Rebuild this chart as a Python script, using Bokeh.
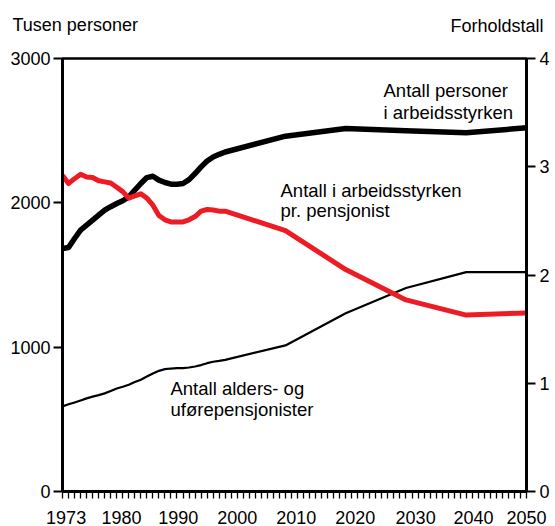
from bokeh.plotting import figure
from bokeh.models import (Range1d, LinearAxis, FixedTicker, Label)
from bokeh.embed import file_html
from bokeh.resources import INLINE

# ---------------- data ----------------
years = list(range(1973, 2001)) + [2010, 2020, 2030, 2040, 2050]

# Antall personer i arbeidsstyrken (tusen)
workforce = [1684, 1690, 1753, 1811, 1845, 1880, 1915, 1949, 1973, 1995,
             2014, 2041, 2088, 2134, 2175, 2184, 2157, 2141, 2129, 2129,
             2134, 2161, 2203, 2249, 2290, 2318, 2336, 2352,
             2462, 2515, 2500, 2485, 2520]

# Antall alders- og uførepensjonister (tusen)
pensioners = [590, 604, 617, 631, 645, 657, 668, 680, 696, 714,
              726, 740, 758, 774, 797, 818, 836, 848, 852, 855,
              855, 859, 866, 876, 889, 899, 905, 912,
              1012, 1235, 1410, 1520, 1520]

# Antall i arbeidsstyrken pr. pensjonist (forholdstall)
ratio = [2.92, 2.845, 2.89, 2.93, 2.906, 2.90, 2.87, 2.86, 2.85, 2.81,
         2.77, 2.71, 2.73, 2.75, 2.71, 2.645, 2.55, 2.51, 2.49, 2.49,
         2.49, 2.51, 2.54, 2.59, 2.605, 2.60, 2.59, 2.59,
         2.41, 2.05, 1.77, 1.63, 1.65]

x_tick_labels = ["1973", "1980", "1990", "2000", "2010", "2020", "2030", "2040", "2050"]
x_tick_label_pos = [1973.6, 1982.8, 1992.2, 2002.0, 2011.8, 2021.6, 2031.6, 2041.2, 2050.0]
minor_years = list(range(1973, 2051))
left_ticks = [0, 1000, 2000, 3000]
right_ticks = [0, 1, 2, 3, 4]

FONT = "Liberation Sans"
FS = "18px"
FS_ANN = "18.5px"
RED = "#ed1c24"

p = figure(width=555, height=526, output_backend="svg", toolbar_location=None,
           x_range=Range1d(1973, 2050), y_range=Range1d(0, 3000),
           min_border_left=62, min_border_right=29, min_border_top=58,
           min_border_bottom=34)
p.extra_y_ranges = {"ratio": Range1d(0, 4)}
p.grid.visible = False
p.background_fill_color = "white"
p.border_fill_color = "white"
p.outline_line_color = "black"
p.outline_line_width = 2.5

# x axis
xa = p.xaxis[0]
xa.ticker = FixedTicker(ticks=x_tick_label_pos, minor_ticks=minor_years)
xa.major_label_overrides = {pos: lab for pos, lab in zip(x_tick_label_pos, x_tick_labels)}
xa.major_tick_out = 0
xa.major_tick_in = 0
xa.minor_tick_out = 7
xa.minor_tick_in = 0
xa.minor_tick_line_color = "black"
xa.minor_tick_line_width = 1.3
xa.axis_line_width = 3
xa.axis_line_color = "black"
xa.major_label_text_font = FONT
xa.major_label_text_font_size = FS
xa.major_label_text_color = "black"
xa.major_label_standoff = 12

# left axis
ya = p.yaxis[0]
ya.ticker = FixedTicker(ticks=left_ticks)
ya.major_tick_out = 9
ya.major_tick_in = 0
ya.minor_tick_out = 0
ya.minor_tick_in = 0
ya.major_tick_line_width = 2
ya.axis_line_width = 3
ya.major_label_text_font = FONT
ya.major_label_text_font_size = FS
ya.major_label_text_color = "black"
ya.major_label_standoff = 3

# right axis
ra = LinearAxis(y_range_name="ratio", ticker=FixedTicker(ticks=right_ticks))
ra.major_tick_out = 9
ra.major_tick_in = 0
ra.minor_tick_out = 0
ra.minor_tick_in = 0
ra.major_tick_line_width = 2
ra.axis_line_width = 3
ra.major_label_text_font = FONT
ra.major_label_text_font_size = FS
ra.major_label_text_color = "black"
ra.major_label_standoff = 4
p.add_layout(ra, "right")

# lines
p.line(years, pensioners, line_color="black", line_width=2.2, line_join="round")
p.line(years, workforce, line_color="black", line_width=5.5, line_join="round")
p.line(years, ratio, y_range_name="ratio", line_color=RED, line_width=5,
       line_join="round")

# texts inside the plot
def lab(x, y, t):
    p.add_layout(Label(x=x, y=y, text=t, text_font=FONT, text_font_size=FS_ANN,
                       text_color="black", text_baseline="alphabetic"))

lab(2026.27, 2778, "Antall personer")
lab(2026.27, 2626, "i arbeidsstyrken")
lab(2009.18, 2087, "Antall i arbeidsstyrken")
lab(2009.18, 1949, "pr. pensjonist")
lab(1990.92, 713, "Antall alders- og")
lab(1990.92, 566, "uførepensjonister")

# axis titles in the top panel (screen units relative to panel)
for t, x, y in [("Tusen personer", -50, 34), ("Forholdstall", 388, 13)]:
    p.add_layout(Label(x=x, y=y, x_units="screen", y_units="screen", text=t,
                       text_font=FONT, text_font_size=FS, text_color="black",
                       text_baseline="alphabetic"), "above")

open("out.html", "w").write(file_html(p, INLINE))
